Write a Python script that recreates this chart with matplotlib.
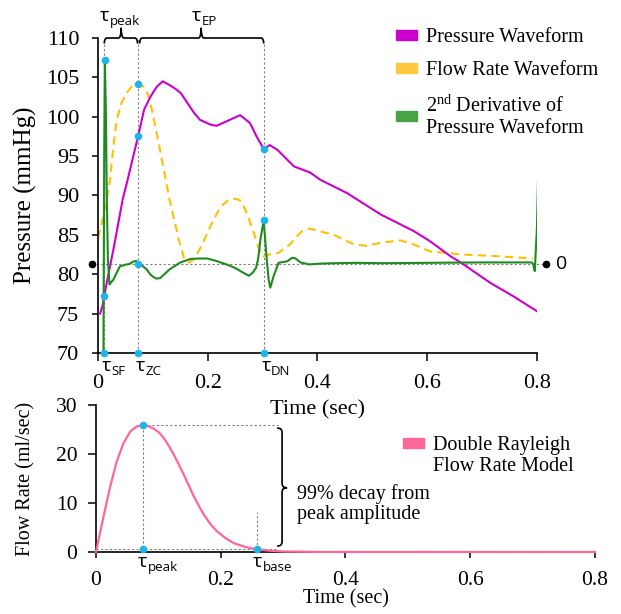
import numpy as np
import matplotlib
matplotlib.use('Agg')
import matplotlib.pyplot as plt
from matplotlib.patches import Patch, PathPatch
from matplotlib.path import Path

plt.rcParams['font.family'] = ['Liberation Serif', 'DejaVu Serif']
plt.rcParams['mathtext.fontset'] = 'custom'
plt.rcParams['mathtext.rm'] = 'Liberation Serif'
SANS = ['Open Sans', 'DejaVu Sans']

# ---- top panel data ----
p_t = [0.0, 0.004, 0.009, 0.0115, 0.019, 0.028, 0.045, 0.054, 0.073, 0.084, 0.096, 0.107,
       0.118, 0.131, 0.140, 0.151, 0.175, 0.186, 0.205, 0.216, 0.224, 0.240, 0.259, 0.270,
       0.277, 0.289, 0.302, 0.313, 0.327, 0.357, 0.387, 0.405, 0.454, 0.515, 0.575, 0.605,
       0.642, 0.663, 0.715, 0.757, 0.800]
p_val = [75.0, 75.0, 76.2, 77.3, 80.0, 83.1, 89.5, 92.0, 97.5, 100.9, 102.6, 103.8,
         104.5, 104.0, 103.6, 103.0, 100.5, 99.6, 99.0, 98.85, 99.1, 99.6, 100.2, 99.6,
         99.2, 97.5, 95.9, 96.4, 95.8, 93.7, 92.9, 92.0, 90.3, 87.6, 85.5, 84.2,
         82.3, 81.4, 78.9, 77.2, 75.3]

f_t = [0.0, 0.008, 0.016, 0.022, 0.028, 0.034, 0.043, 0.052, 0.062, 0.073, 0.083, 0.090,
       0.096, 0.102, 0.111, 0.121, 0.130, 0.139, 0.148, 0.157, 0.166, 0.175, 0.187, 0.199,
       0.211, 0.224, 0.237, 0.251, 0.261, 0.272, 0.284, 0.293, 0.301, 0.311, 0.329, 0.350,
       0.371, 0.386, 0.405, 0.430, 0.466, 0.490, 0.515, 0.551, 0.575, 0.605, 0.666, 0.727,
       0.793]
f_val = [84.6, 86.8, 89.5, 92.0, 96.2, 99.6, 101.8, 103.0, 103.9, 104.2, 103.8, 103.0,
         101.6, 99.6, 96.5, 92.9, 89.6, 86.9, 84.2, 82.0, 81.5, 81.9, 83.4, 85.2,
         87.0, 88.6, 89.4, 89.6, 89.3, 87.6, 85.25, 83.35, 82.3, 82.5, 82.7, 83.8,
         85.45, 85.8, 85.45, 85.0, 83.8, 83.6, 84.0, 84.3, 83.8, 82.9, 82.5, 82.3,
         82.0]

g_t = [0.010, 0.0113, 0.0125, 0.0145, 0.016, 0.018, 0.021, 0.024, 0.028, 0.034, 0.040,
       0.049, 0.057, 0.064, 0.070, 0.073, 0.082, 0.089, 0.095, 0.100, 0.106, 0.113, 0.121,
       0.130, 0.139, 0.150, 0.169, 0.185, 0.199, 0.215, 0.236, 0.250, 0.262, 0.275, 0.282,
       0.288, 0.292, 0.296, 0.302, 0.307, 0.311, 0.314, 0.320, 0.329, 0.345, 0.354, 0.360,
       0.369, 0.385, 0.405, 0.430, 0.470, 0.520, 0.600, 0.700, 0.790, 0.793, 0.796, 0.800,
       0.802]
g_val = [70.0, 95.0, 107.2, 100.0, 90.0, 82.0, 78.7, 79.0, 79.3, 80.2, 81.0,
         81.2, 81.3, 81.6, 81.7, 81.35, 81.0, 80.6, 80.0, 79.7, 79.45, 79.5, 80.0,
         80.6, 81.0, 81.5, 81.95, 82.0, 82.0, 81.7, 81.2, 80.8, 80.3, 79.8, 80.2,
         80.8, 82.0, 84.4, 86.85, 82.3, 79.3, 78.3, 79.75, 81.45, 81.65, 82.1, 82.0,
         81.5, 81.25, 81.35, 81.4, 81.45, 81.4, 81.45, 81.5, 81.5, 81.3, 80.4, 86.0,
         92.4]

zero_level = 81.35
tau_sf, tau_zc, tau_dn = 0.0115, 0.073, 0.302
dot_t = [0.0125, tau_sf, tau_zc, tau_zc, tau_zc, tau_dn, tau_dn, tau_sf, tau_zc, tau_dn]
dot_p = [107.2, 77.3, 104.2, 97.5, 81.35, 95.9, 86.85, 70, 70, 70]

# ---- bottom panel data ----
q_t = [0.0, 0.012, 0.0226, 0.033, 0.044, 0.055, 0.065, 0.075, 0.084, 0.092, 0.101, 0.109,
       0.117, 0.125, 0.133, 0.141, 0.149, 0.157, 0.165, 0.173, 0.184, 0.195, 0.208, 0.221,
       0.240, 0.258, 0.280, 0.300, 0.350, 0.800]
q_val = [0.0, 7.2, 13.3, 18.4, 22.2, 24.6, 25.6, 25.9, 25.7, 25.2, 24.4, 23.2,
         21.6, 19.8, 17.8, 15.7, 13.5, 11.3, 9.4, 7.6, 5.6, 4.1, 2.8, 1.8,
         1.0, 0.55, 0.25, 0.1, 0.02, 0.0]
tau_peak, tau_base = 0.075, 0.258
q_peak, q_base = 25.9, 0.55

x_ticks = [0, 0.2, 0.4, 0.6, 0.8]
x_labels = ['0', '0.2', '0.4', '0.6', '0.8']

MAG = '#CC00CC'
GOLD = '#FFC000'
GREEN = '#1E8B1E'
BLUE = '#1FB4EE'
PINK = '#FF6699'
GREY = '#808080'


def hbrace(ax, x0, x1, xm, y_line, y_end, y_tip, rx):
    verts = [(x0, y_end), (x0, y_line), (x0 + rx, y_line), (xm - rx, y_line),
             (xm, y_line), (xm, y_tip), (xm, y_tip), (xm, y_line), (xm + rx, y_line),
             (x1 - rx, y_line), (x1, y_line), (x1, y_end)]
    codes = [Path.MOVETO, Path.CURVE3, Path.CURVE3, Path.LINETO, Path.CURVE3, Path.CURVE3,
             Path.MOVETO, Path.CURVE3, Path.CURVE3, Path.LINETO, Path.CURVE3, Path.CURVE3]
    ax.add_patch(PathPatch(Path(verts, codes), fill=False, lw=1.2, color='black',
                           clip_on=False, zorder=5))


def vbrace(ax, y0, y1, ym, x_line, x_end, x_tip, ry):
    verts = [(x_end, y0), (x_line, y0), (x_line, y0 + ry), (x_line, ym - ry),
             (x_line, ym), (x_tip, ym), (x_tip, ym), (x_line, ym), (x_line, ym + ry),
             (x_line, y1 - ry), (x_line, y1), (x_end, y1)]
    codes = [Path.MOVETO, Path.CURVE3, Path.CURVE3, Path.LINETO, Path.CURVE3, Path.CURVE3,
             Path.MOVETO, Path.CURVE3, Path.CURVE3, Path.LINETO, Path.CURVE3, Path.CURVE3]
    ax.add_patch(PathPatch(Path(verts, codes), fill=False, lw=1.2, color='black',
                           clip_on=False, zorder=5))


def tau(ax, x, y, sub, size=14, subsize=9.5):
    ax.annotate('τ', (x, y), fontsize=size, family=SANS, va='baseline', ha='left',
                annotation_clip=False)
    ax.annotate(sub, (x, y), xytext=(6.8, -3), textcoords='offset points',
                fontsize=subsize, family=SANS, va='baseline', ha='left',
                annotation_clip=False)


fig = plt.figure(figsize=(6.21, 6.14), dpi=100)

# ================= bottom panel (made first so the top label draws over it) ========
ax2 = fig.add_axes([0.1546, 0.1010, 0.8035, 0.2394])
ax2.patch.set_visible(False)

# ================= top panel =================
ax1 = fig.add_axes([0.1578, 0.4251, 0.7069, 0.5130])
ax1.patch.set_visible(False)
ax1.plot(p_t, p_val, color=MAG, lw=1.5, zorder=3)
ax1.plot(f_t, f_val, color=GOLD, lw=1.5, dashes=(4, 2.5), zorder=2)
ax1.plot(g_t, g_val, color=GREEN, lw=1.5, zorder=4)

dot_style = dict(color=GREY, lw=0.8, ls=(0, (2, 2)), zorder=1, clip_on=False)
ax1.plot([-0.0104, 0.816], [zero_level, zero_level], **dot_style)
ax1.plot([-0.0104, 0.816], [zero_level, zero_level], 'o', color='black', ms=4.5,
         clip_on=False, zorder=6)
ax1.text(0.834, zero_level, '0', family=SANS, fontsize=14, va='center', ha='left')
ax1.plot([tau_sf, tau_sf], [70, 109.4], **dot_style)
ax1.plot([tau_zc, tau_zc], [70, 110.0], **dot_style)
ax1.plot([tau_dn, tau_dn], [70, 109.4], **dot_style)

ax1.plot(dot_t, dot_p, 'o', color=BLUE, ms=5.5, mec='none', clip_on=False, zorder=7)

hbrace(ax1, tau_sf, tau_zc - 0.001, (tau_sf + tau_zc) / 2, 110.0, 109.3, 111.3, 0.005)
hbrace(ax1, tau_zc + 0.003, tau_dn, 0.188, 110.0, 109.3, 111.3, 0.005)
tau(ax1, 0.0036, 112.2, 'peak')
tau(ax1, 0.171, 112.2, 'EP')
tau(ax1, 0.0065, 67.7, 'SF')
tau(ax1, 0.069, 67.7, 'ZC')
tau(ax1, 0.298, 67.7, 'DN')

ax1.set_xlim(0, 0.8)
ax1.set_ylim(70, 110)
ax1.set_xticks(x_ticks)
ax1.set_xticklabels(x_labels)
ax1.set_yticks(np.arange(70, 111, 5))
ax1.spines[['top', 'right']].set_visible(False)
for s in ['left', 'bottom']:
    ax1.spines[s].set_linewidth(1.2)
ax1.tick_params(axis='x', direction='out', length=5.5, width=1.1, pad=9.5, labelsize=16)
ax1.tick_params(axis='y', direction='out', length=4.5, width=1.1, pad=9, labelsize=16)
ax1.set_xlabel('Time (sec)', fontsize=16, va='center')
ax1.xaxis.set_label_coords(0.5, -0.181)
ax1.set_ylabel('Pressure (mmHg)', fontsize=18, va='center')
ax1.yaxis.set_label_coords(-0.166, 0.5)

handles = [Patch(color=MAG), Patch(color='#FFC83D'), Patch(color='#46A346')]
labels = ['Pressure Waveform', 'Flow Rate Waveform',
          '2$^{\\mathrm{nd}}$ Derivative of\nPressure Waveform']
leg = ax1.legend(handles, labels, loc='upper left', bbox_to_anchor=(0.6377, 0.954),
                 bbox_transform=fig.transFigure, frameon=False, fontsize=14.5,
                 handlelength=1.05, handleheight=0.4, handletextpad=0.45,
                 labelspacing=0.7, borderpad=0, borderaxespad=0)
for t in leg.get_texts():
    t.set_linespacing(1.2)

# ================= bottom panel content =================
ax2.plot(q_t, q_val, color=PINK, lw=1.6, zorder=4, clip_on=False)
ax2.plot([tau_peak, 0.291], [q_peak, q_peak], **dot_style)
ax2.plot([tau_peak, tau_peak], [0, q_peak], **dot_style)
ax2.plot([0, 0.291], [q_base, q_base], **dot_style)
ax2.plot([tau_base, tau_base], [q_base, 8.2], **dot_style)
ax2.plot([tau_peak, tau_peak, tau_base], [q_peak, q_base, q_base], 'o', color=BLUE,
         ms=5.5, mec='none', clip_on=False, zorder=7)
vbrace(ax2, 1.2, 25.3, 13.1, 0.2983, 0.2903, 0.3064, 0.9)
ax2.text(0.3224, 9.8, '99% decay from\npeak amplitude', fontsize=14.5, va='center',
         ha='left', linespacing=1.05)
tau(ax2, 0.0675, -3.0, 'peak')
tau(ax2, 0.2517, -3.0, 'base')

ax2.set_xlim(0, 0.8)
ax2.set_ylim(0, 30)
ax2.set_xticks(x_ticks)
ax2.set_xticklabels(x_labels)
ax2.set_yticks([0, 10, 20, 30])
ax2.spines[['top', 'right']].set_visible(False)
for s in ['left', 'bottom']:
    ax2.spines[s].set_linewidth(1.2)
ax2.tick_params(axis='x', direction='out', length=4.5, width=1.1, pad=9.5, labelsize=15.5)
ax2.tick_params(axis='y', direction='out', length=5.5, width=1.1, pad=8, labelsize=15.5)
ax2.set_xlabel('Time (sec)', fontsize=14.5, va='center')
ax2.xaxis.set_label_coords(0.5, -0.318)
ax2.set_ylabel('Flow Rate (ml/sec)', fontsize=14.5, va='center')
ax2.yaxis.set_label_coords(-0.140, 0.5)

leg2 = ax2.legend([Patch(color=PINK), Patch(color='none')],
                  ['Double Rayleigh', 'Flow Rate Model'], loc='upper left',
                  bbox_to_anchor=(0.649, 0.290), bbox_transform=fig.transFigure,
                  frameon=False, fontsize=14.5, handlelength=1.05, handleheight=0.4,
                  handletextpad=0.45, labelspacing=0.1, borderpad=0, borderaxespad=0)

fig.savefig('out.png', dpi=100)
